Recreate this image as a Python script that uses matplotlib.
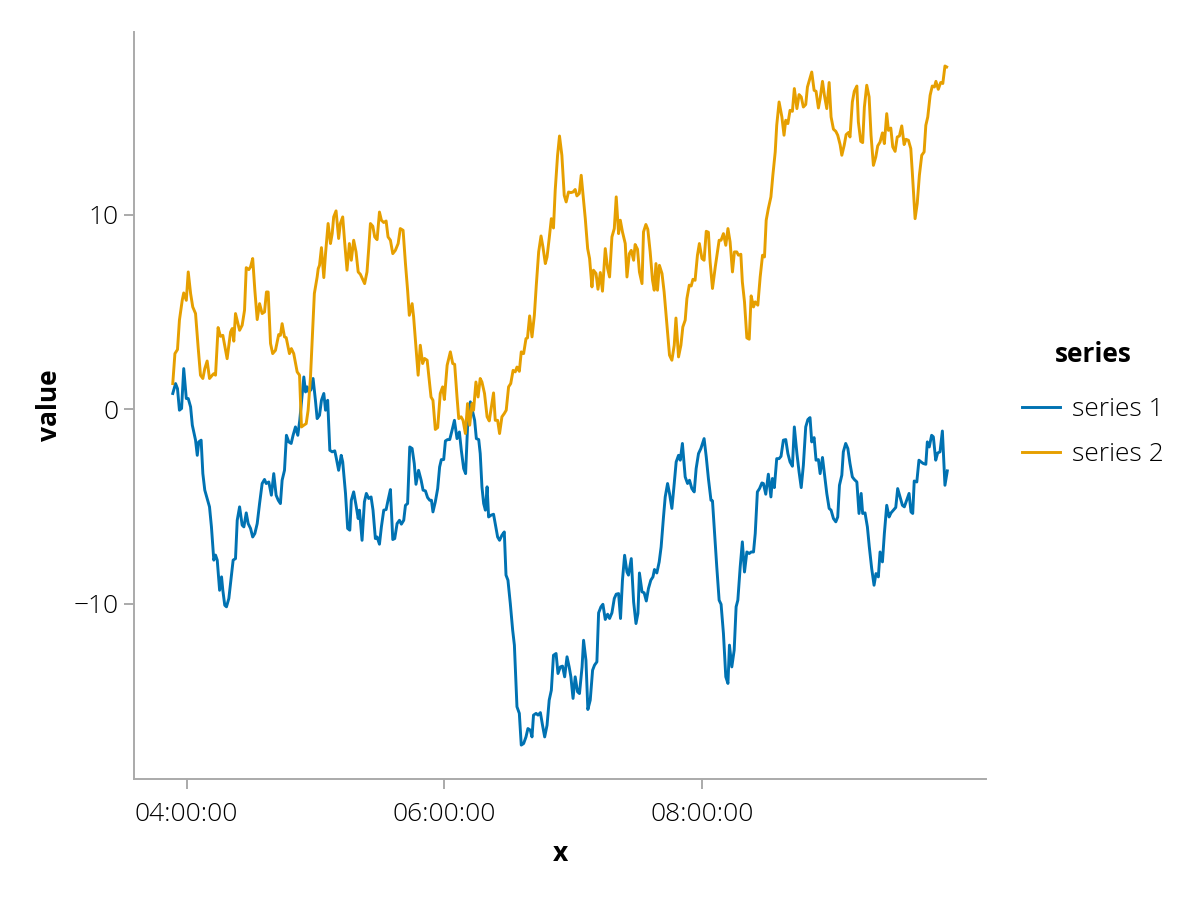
import pandas as pd
import matplotlib
matplotlib.use("Agg")
import matplotlib.pyplot as plt
import matplotlib.dates as mdates

# (minutes after 04:00, value)
series1 = [
    (-6.4, 0.81), (-5.1, 1.32), (-4.2, 1.06), (-3.3, -0.05), (-2.3, 0.04), (-1.3, 2.09), (-0.1, 0.55),
    (0.8, 0.55), (1.9, 0.12), (2.7, -0.82), (3.4, -1.17), (4.2, -1.59), (5.0, -2.37), (5.7, -1.68),
    (6.8, -1.59), (7.6, -3.31), (8.5, -4.16), (9.6, -4.59), (10.7, -5.02), (11.6, -6.05), (12.7, -7.76),
    (13.5, -7.5), (14.3, -7.76), (15.4, -9.31), (16.3, -8.62), (16.9, -9.31), (17.8, -10.08), (18.6, -10.16),
    (19.7, -9.73), (20.8, -8.62), (21.7, -7.76), (22.8, -7.68), (23.6, -5.71), (24.7, -5.02), (25.9, -5.96),
    (26.7, -6.05), (27.8, -5.33), (28.7, -5.88), (29.8, -6.13), (30.8, -6.57), (31.8, -6.39), (32.9, -5.88),
    (34.0, -4.85), (35.2, -3.82), (36.3, -3.61), (37.1, -3.82), (38.3, -3.74), (39.5, -4.42), (40.6, -3.31),
    (41.7, -4.42), (42.7, -4.68), (43.7, -4.85), (44.5, -3.65), (45.6, -3.14), (46.5, -1.34), (47.6, -1.68),
    (48.7, -1.76), (49.6, -1.34), (50.7, -0.91), (51.8, -1.34), (52.7, -0.57), (54.6, 1.66), (55.4, 0.89),
    (56.1, 1.15), (56.9, 0.89), (57.9, 1.0), (58.9, 1.58), (60.0, 0.46), (60.8, -0.48), (61.9, -0.31),
    (62.8, 0.46), (63.9, 0.81), (64.7, -0.05), (65.7, 0.46), (66.7, -2.11), (67.8, -2.19), (69.0, -2.14),
    (69.6, -2.45), (70.8, -3.14), (72.0, -2.37), (72.7, -2.71), (74.0, -4.33), (75.0, -6.13), (76.0, -6.22),
    (76.7, -4.68), (77.8, -4.25), (78.9, -4.94), (79.9, -5.62), (80.5, -5.19), (81.7, -6.74), (82.8, -4.76),
    (83.7, -4.33), (84.8, -4.59), (85.9, -4.51), (86.8, -5.19), (87.9, -6.65), (88.7, -6.57), (89.8, -6.94),
    (90.7, -6.05), (91.8, -5.19), (92.9, -5.16), (93.8, -4.68), (94.9, -4.13), (96.0, -6.7), (96.9, -6.65),
    (98.0, -5.88), (99.1, -5.71), (100.0, -5.91), (101.1, -5.71), (101.9, -4.94), (102.9, -4.85), (103.9, -1.94),
    (105.0, -2.02), (106.0, -2.79), (106.8, -3.86), (108.0, -3.14), (109.2, -3.65), (110.1, -4.16), (111.2, -4.2),
    (112.2, -4.54), (113.2, -4.68), (114.0, -4.68), (114.7, -5.28), (115.8, -4.76), (116.9, -4.08), (117.8, -2.97),
    (118.6, -2.59), (119.7, -2.59), (120.5, -1.63), (121.5, -1.56), (122.5, -1.56), (123.6, -1.08), (124.7, -0.57),
    (125.9, -1.51), (127.0, -1.17), (127.9, -2.11), (129.0, -3.05), (129.9, -3.31), (130.8, -0.91), (132.1, 0.38),
    (133.2, -0.14), (134.1, -0.57), (134.9, -1.51), (136.0, -1.56), (136.7, -2.28), (137.5, -3.99), (138.3, -4.85),
    (139.1, -5.19), (139.9, -3.99), (140.6, -5.54), (141.7, -5.45), (142.9, -5.4), (143.7, -5.88), (144.8, -6.57),
    (145.7, -6.74), (146.8, -6.48), (147.9, -6.31), (148.7, -8.53), (149.6, -8.79), (150.7, -9.99), (151.8, -11.36),
    (152.6, -12.13), (153.8, -15.3), (154.9, -15.64), (155.8, -17.27), (156.9, -17.19), (158.0, -16.85), (158.9, -16.42),
    (160.0, -16.5), (160.8, -16.85), (161.5, -15.73), (162.7, -15.64), (163.6, -15.73), (164.7, -15.6), (165.7, -16.25),
    (166.7, -16.85), (167.8, -16.25), (168.8, -14.96), (169.8, -14.45), (170.8, -12.65), (172.0, -12.56), (172.9, -13.59),
    (174.0, -13.25), (175.0, -13.21), (176.0, -13.76), (177.1, -12.73), (178.1, -13.25), (178.9, -13.76), (179.9, -14.87),
    (180.9, -13.76), (182.0, -14.53), (182.9, -14.62), (184.1, -13.25), (184.8, -11.88), (185.9, -12.9), (186.8, -15.44),
    (187.9, -14.96), (189.0, -13.42), (189.9, -13.16), (191.0, -12.99), (191.8, -10.47), (192.9, -10.16), (193.8, -10.03),
    (194.9, -10.81), (196.0, -10.54), (196.9, -10.76), (198.0, -10.47), (199.1, -9.73), (200.0, -9.51), (201.1, -9.48),
    (202.0, -10.76), (202.9, -8.79), (203.9, -7.51), (205.0, -8.37), (205.7, -8.53), (207.0, -7.68), (208.1, -9.91),
    (209.2, -11.02), (210.1, -10.5), (210.8, -8.42), (212.0, -9.39), (213.0, -9.44), (214.0, -9.86), (215.0, -9.22),
    (216.1, -8.79), (217.1, -8.62), (217.8, -8.24), (218.9, -8.42), (220.0, -7.85), (220.9, -7.08), (222.0, -5.54),
    (222.8, -4.51), (223.9, -3.82), (224.8, -4.33), (225.9, -5.1), (227.0, -3.82), (227.9, -2.71), (229.0, -2.37),
    (229.8, -2.62), (230.8, -1.76), (232.1, -3.48), (233.2, -3.82), (234.1, -3.65), (235.2, -4.08), (236.3, -4.25),
    (237.2, -3.05), (238.3, -2.28), (239.4, -2.02), (240.9, -1.51), (241.9, -2.45), (242.9, -3.56), (244.1, -4.68),
    (244.8, -4.71), (245.7, -6.22), (246.8, -8.11), (247.9, -9.82), (248.8, -10.03), (249.9, -11.53), (251.0, -13.76),
    (252.0, -14.1), (252.7, -12.13), (253.8, -13.25), (254.9, -12.39), (255.8, -10.16), (256.6, -9.82), (257.7, -8.11),
    (258.7, -6.82), (259.7, -8.37), (260.8, -7.34), (261.9, -7.42), (262.8, -7.34), (263.9, -7.34), (264.7, -6.39),
    (265.7, -4.25), (266.7, -4.08), (267.8, -3.79), (268.5, -3.82), (269.6, -4.37), (270.8, -3.34), (272.0, -4.51),
    (272.7, -3.56), (273.6, -4.03), (274.7, -2.54), (275.8, -2.54), (276.7, -2.42), (277.8, -1.59), (278.9, -1.56),
    (279.9, -2.28), (280.9, -2.71), (282.0, -2.93), (282.9, -0.91), (284.1, -2.28), (285.1, -3.22), (286.1, -4.03),
    (287.1, -2.88), (288.2, -0.91), (289.2, -0.53), (290.2, -0.43), (291.0, -1.68), (292.1, -1.46), (293.0, -2.62),
    (294.1, -2.59), (294.9, -3.31), (296.0, -2.48), (296.9, -3.31), (298.0, -4.33), (299.1, -5.1), (300.0, -5.19),
    (301.1, -5.62), (302.2, -5.79), (303.1, -5.54), (303.9, -3.91), (305.0, -3.39), (305.7, -2.19), (306.8, -1.76),
    (307.8, -2.02), (308.8, -2.79), (309.9, -3.48), (310.8, -3.61), (312.0, -3.74), (313.0, -5.36), (314.0, -4.33),
    (314.7, -5.36), (315.8, -5.33), (316.9, -6.05), (317.8, -7.08), (318.9, -8.19), (320.0, -9.05), (320.9, -8.45),
    (322.0, -8.62), (322.8, -7.34), (323.9, -7.85), (324.8, -6.39), (325.9, -4.94), (327.0, -5.54), (327.9, -5.33),
    (329.0, -5.19), (330.1, -5.05), (331.0, -4.08), (332.1, -4.51), (333.2, -4.94), (334.1, -5.02), (335.2, -4.68),
    (336.3, -4.33), (337.2, -5.28), (338.0, -5.36), (338.7, -3.69), (339.9, -3.74), (340.9, -2.62), (341.9, -2.71),
    (342.9, -2.79), (344.1, -2.83), (344.8, -1.68), (345.7, -1.94), (346.8, -1.34), (347.6, -1.42), (348.7, -2.62),
    (349.6, -2.25), (350.7, -2.19), (351.8, -1.12), (353.0, -3.91), (354.1, -3.17),
]

series2 = [
    (-6.4, 1.32), (-5.4, 2.86), (-4.2, 3.07), (-3.3, 4.58), (-2.0, 5.6), (-1.3, 5.98), (-0.1, 5.6),
    (0.8, 7.06), (1.9, 5.95), (2.9, 5.26), (4.2, 4.92), (5.4, 3.2), (6.5, 1.75), (7.6, 1.58),
    (8.5, 2.09), (9.6, 2.48), (10.7, 1.58), (12.0, 1.75), (12.7, 1.83), (13.5, 1.75), (14.7, 4.2),
    (15.8, 3.75), (16.9, 3.8), (18.9, 2.6), (20.5, 3.97), (21.3, 4.15), (22.0, 3.5), (22.8, 4.92),
    (24.7, 4.06), (25.9, 4.32), (27.0, 5.09), (27.8, 7.28), (29.0, 7.18), (29.8, 7.32), (30.8, 7.75),
    (31.8, 6.12), (32.9, 4.61), (34.0, 5.43), (35.2, 4.92), (36.3, 5.0), (37.2, 6.03), (38.0, 6.03),
    (39.1, 3.38), (40.1, 2.86), (41.4, 3.03), (42.9, 3.84), (43.7, 3.8), (44.5, 4.4), (45.6, 3.72),
    (46.4, 3.68), (47.9, 2.86), (48.8, 3.12), (49.9, 2.86), (51.5, 1.92), (52.6, 1.75), (53.5, -0.91),
    (54.6, -0.82), (55.7, -0.74), (56.6, -0.05), (57.7, 1.66), (58.7, 4.06), (59.5, 5.95), (60.8, 6.8),
    (61.3, 7.23), (61.9, 7.4), (62.8, 8.31), (63.9, 6.77), (64.7, 8.0), (65.9, 9.55), (67.0, 8.52),
    (67.8, 9.03), (68.5, 9.89), (69.6, 10.2), (70.8, 8.78), (71.6, 9.55), (72.7, 9.89), (73.6, 8.6),
    (74.7, 7.15), (75.8, 8.52), (76.7, 7.66), (77.8, 8.69), (78.9, 8.09), (79.9, 7.06), (80.9, 6.94),
    (82.0, 6.67), (82.9, 6.46), (84.0, 7.06), (84.8, 8.26), (85.6, 9.55), (86.7, 9.41), (87.6, 8.86),
    (88.7, 8.72), (89.8, 10.14), (90.7, 9.72), (91.8, 9.6), (92.9, 9.68), (93.8, 8.86), (94.9, 8.69),
    (96.0, 8.0), (97.2, 8.17), (98.5, 8.52), (99.5, 9.29), (100.8, 9.2), (101.9, 7.49), (102.9, 6.12),
    (103.7, 4.83), (105.0, 5.43), (105.7, 4.75), (106.8, 3.2), (107.8, 1.75), (108.8, 3.29), (109.9, 2.35),
    (110.8, 2.61), (112.0, 2.52), (113.0, 1.49), (113.8, 0.63), (114.7, 0.46), (115.8, -1.04), (116.9, -0.94),
    (118.1, 0.81), (119.2, 1.15), (120.0, 0.5), (121.3, 2.26), (122.8, 2.95), (123.9, 2.35), (124.8, 2.31),
    (125.9, 0.63), (126.7, -0.48), (127.8, -0.39), (128.7, -0.57), (129.8, -1.25), (130.8, 0.29), (131.8, -0.82),
    (132.9, 0.29), (133.6, -0.05), (134.7, 1.4), (135.7, 0.63), (136.7, 1.58), (137.5, 1.4), (138.7, 0.81),
    (139.9, -0.39), (140.9, -0.6), (141.9, 0.12), (142.9, 0.84), (143.7, -0.57), (144.8, -0.57), (145.7, -1.25),
    (146.8, -0.39), (147.9, -0.22), (148.8, -0.05), (149.9, 1.15), (150.9, 1.32), (152.0, 2.0), (153.0, 1.92),
    (153.8, 2.17), (154.9, 1.95), (155.8, 2.95), (156.9, 2.86), (158.0, 3.63), (158.7, 3.67), (159.7, 4.8),
    (160.8, 3.72), (161.9, 4.83), (162.8, 6.38), (163.9, 8.09), (165.0, 8.91), (165.9, 8.34), (167.0, 7.49),
    (167.8, 7.83), (168.8, 8.78), (169.8, 9.8), (170.8, 9.32), (171.6, 11.26), (172.7, 13.06), (173.6, 14.05),
    (174.7, 13.06), (175.8, 11.0), (176.7, 10.66), (177.8, 11.17), (178.9, 11.14), (179.9, 11.17), (180.9, 11.3),
    (181.7, 10.97), (182.8, 11.09), (183.7, 12.03), (184.5, 11.09), (185.6, 9.8), (186.7, 8.26), (187.6, 7.75),
    (188.7, 6.29), (189.4, 7.15), (190.6, 6.98), (191.5, 6.17), (192.6, 7.03), (193.6, 6.07), (194.9, 8.26),
    (196.0, 7.23), (196.9, 6.8), (198.0, 8.86), (199.1, 9.29), (200.0, 10.92), (201.1, 9.03), (201.9, 9.72),
    (202.9, 9.12), (204.2, 8.52), (205.0, 6.8), (206.1, 8.0), (207.0, 8.17), (208.1, 7.66), (208.8, 8.47),
    (209.9, 8.23), (210.8, 7.06), (212.0, 6.46), (212.7, 9.12), (213.8, 9.5), (214.7, 9.25), (215.8, 8.09),
    (216.9, 6.63), (217.7, 6.12), (218.5, 7.49), (219.2, 6.12), (220.1, 7.4), (221.3, 6.98), (222.3, 6.03),
    (223.6, 4.32), (224.8, 2.78), (225.9, 2.52), (227.0, 3.29), (227.8, 4.69), (229.0, 2.69), (230.1, 3.29),
    (231.0, 4.23), (232.1, 4.58), (232.9, 5.69), (234.0, 6.38), (234.9, 6.34), (235.7, 6.68), (236.7, 6.63),
    (237.8, 7.92), (238.7, 8.52), (239.9, 7.75), (240.9, 7.66), (241.9, 9.15), (242.9, 9.1), (243.7, 7.57),
    (244.8, 6.21), (246.1, 7.32), (247.1, 8.09), (247.9, 8.69), (248.8, 8.69), (249.9, 9.03), (251.0, 8.43),
    (252.0, 9.29), (253.0, 8.6), (254.1, 7.06), (255.0, 8.09), (256.1, 8.09), (256.9, 7.92), (258.0, 7.97),
    (258.7, 6.55), (259.7, 5.52), (260.8, 3.67), (261.9, 3.6), (262.8, 5.83), (263.9, 5.26), (264.7, 5.52),
    (265.9, 5.35), (267.0, 6.8), (268.1, 7.92), (269.0, 7.83), (269.8, 9.72), (270.8, 10.32), (272.0, 10.92),
    (272.9, 12.03), (274.0, 13.23), (274.7, 14.6), (275.8, 15.8), (277.1, 15.03), (278.1, 14.09), (278.9, 14.86),
    (279.9, 14.69), (280.9, 15.37), (282.0, 15.32), (282.9, 16.49), (284.1, 15.46), (285.1, 16.18), (286.1, 16.06),
    (287.1, 15.54), (288.2, 15.67), (289.0, 16.57), (289.9, 16.92), (291.0, 17.34), (292.1, 16.4), (293.0, 16.35),
    (294.1, 15.49), (294.9, 15.97), (296.0, 16.86), (296.9, 16.14), (298.0, 15.46), (299.1, 16.8), (300.0, 15.03),
    (301.1, 14.4), (302.2, 14.29), (303.1, 14.09), (304.2, 13.61), (305.0, 13.06), (306.1, 13.57), (307.0, 14.12),
    (308.1, 14.23), (308.8, 14.0), (309.9, 15.8), (310.8, 16.35), (312.0, 16.62), (312.7, 14.77), (313.8, 13.78),
    (314.7, 13.71), (315.5, 15.54), (316.6, 16.66), (317.7, 16.06), (318.6, 14.09), (319.7, 12.54), (320.8, 12.97),
    (321.7, 13.54), (322.8, 13.74), (323.9, 14.21), (324.8, 13.66), (325.9, 15.2), (326.7, 14.34), (327.8, 14.46),
    (328.7, 13.49), (329.8, 13.26), (330.8, 14.0), (331.8, 14.05), (332.9, 14.57), (334.0, 13.61), (334.9, 13.88),
    (336.0, 13.83), (337.1, 13.4), (337.8, 12.2), (339.1, 9.8), (340.1, 10.58), (341.1, 12.03), (342.2, 13.06),
    (343.3, 13.23), (344.1, 14.6), (345.0, 15.03), (346.1, 16.14), (347.1, 16.62), (348.1, 16.57), (348.8, 16.86),
    (349.9, 16.45), (351.0, 16.8), (352.0, 16.75), (353.0, 17.65), (353.8, 17.6),
]

series_names = ["series 1", "series 2"]
colors = ["#0072B2", "#E69F00"]
start = pd.Timestamp("2024-01-01 04:00:00")

plt.rcParams["font.family"] = ["Open Sans", "DejaVu Sans"]
spine_gray = "#aaaaaa"

fig = plt.figure(figsize=(12, 9), dpi=100)
ax = fig.add_axes([0.1117, 0.1344, 0.71, 0.83])

for pts, name, col in zip([series1, series2], series_names, colors):
    t = start + pd.to_timedelta([p[0] for p in pts], unit="min")
    v = [p[1] for p in pts]
    ax.plot(t, v, color=col, lw=2.1, label=name, solid_joinstyle="round")

ax.xaxis.set_major_locator(mdates.HourLocator(byhour=[4, 6, 8]))
ax.xaxis.set_major_formatter(mdates.DateFormatter("%H:%M:%S"))
ax.set_yticks([-10, 0, 10])

for side in ["top", "right"]:
    ax.spines[side].set_visible(False)
for side in ["left", "bottom"]:
    ax.spines[side].set_color(spine_gray)
    ax.spines[side].set_linewidth(1.4)

ax.tick_params(axis="both", color=spine_gray, width=1.4, length=7,
               labelsize=19, pad=4)
ax.tick_params(axis="x", pad=9.5)
for lab in ax.get_xticklabels() + ax.get_yticklabels():
    lab.set_fontweight("light")

ax.set_xlabel("x", fontsize=19, fontweight="bold", labelpad=9.5)
ax.set_ylabel("value", fontsize=19, fontweight="bold", labelpad=8)

leg = fig.legend(title="series", loc="center left", bbox_to_anchor=(0.832, 0.551),
                 frameon=False, fontsize=19, handlelength=1.45, handletextpad=0.45,
                 labelspacing=0.76, title_fontproperties={"weight": "bold", "size": 19})
leg._legend_box.sep = 0.76 * 19 + 6
for txt in leg.get_texts():
    txt.set_fontweight("light")
for line in leg.get_lines():
    line.set_linewidth(2.1)

fig.savefig("out.png", dpi=100)
